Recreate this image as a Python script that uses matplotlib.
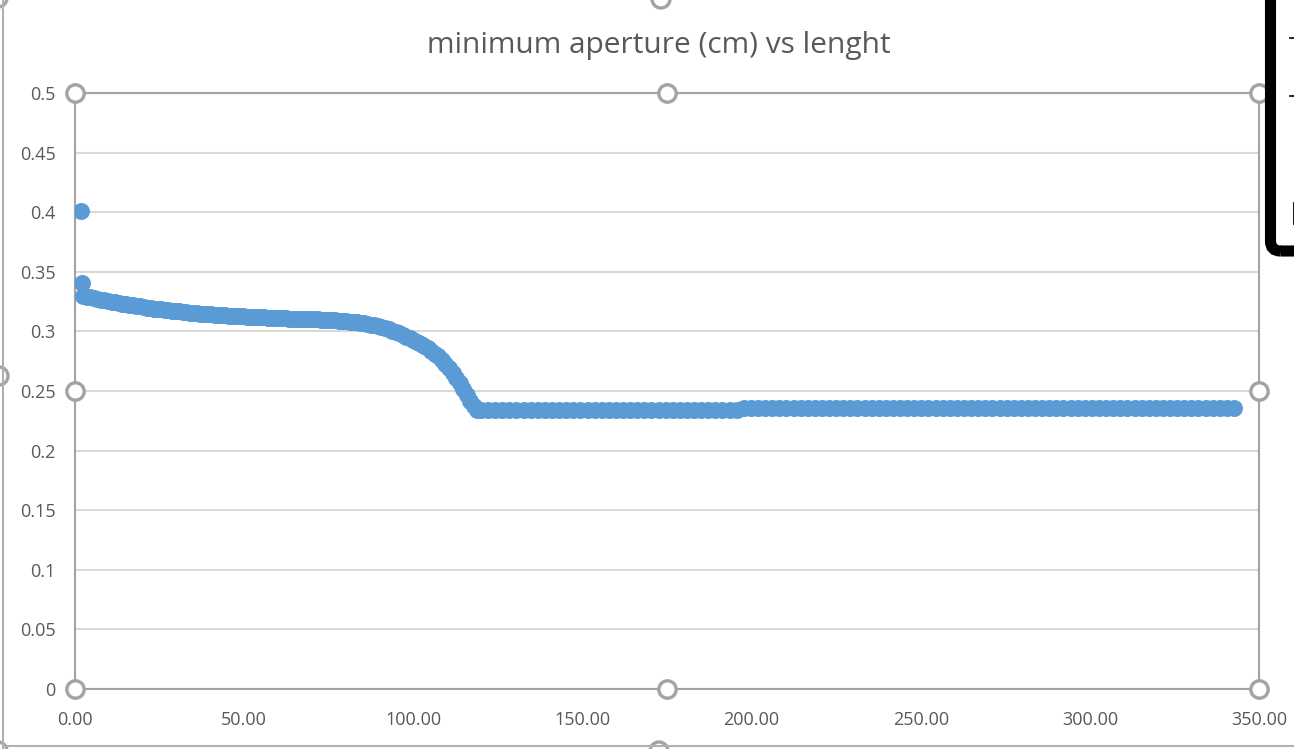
import matplotlib
matplotlib.use("Agg")
import matplotlib.pyplot as plt
from matplotlib.lines import Line2D
from matplotlib.patches import FancyBboxPatch, Circle
from matplotlib.transforms import IdentityTransform

# data
x_start = [1.8, 2.0]
y_start = [0.4013, 0.3405]

x_curve = [2.4, 3.45, 4.5, 5.55, 6.6, 7.65, 8.7, 9.75, 10.8, 11.85, 12.9,
           13.95, 15.0, 16.05, 17.1, 18.15, 19.2, 20.25, 21.3, 22.35, 23.4,
           24.45, 25.5, 26.55, 27.6, 28.65, 29.7, 30.75, 31.8, 32.85, 33.9,
           34.95, 36.0, 37.05, 38.1, 39.15, 40.2, 41.25, 42.3, 43.35, 44.4,
           45.45, 46.5, 47.55, 48.6, 49.65, 50.7, 51.75, 52.8, 53.85, 54.9,
           55.95, 57.0, 58.05, 59.1, 60.15, 61.2, 62.25, 63.3, 64.35, 65.4,
           66.45, 67.5, 68.55, 69.6, 70.65, 71.7, 72.75, 73.8, 74.85, 75.9,
           76.95, 78.0, 79.05, 80.1, 81.15, 82.2, 83.25, 84.3, 85.35, 86.4,
           87.45, 88.5, 89.55, 90.6, 91.65, 92.7, 93.75, 94.8, 95.85, 96.9,
           97.95, 99.0, 100.05, 101.1, 102.15, 103.2, 104.25, 105.3, 106.35,
           107.4, 108.45, 109.5, 110.55, 111.6, 112.65, 113.7, 114.75, 115.8,
           116.85, 117.9, 118.95]
y_curve = [0.3300, 0.3292, 0.3285, 0.3278, 0.3272, 0.3266, 0.3260, 0.3254,
           0.3249, 0.3243, 0.3238, 0.3233, 0.3228, 0.3223, 0.3218, 0.3213,
           0.3209, 0.3204, 0.3200, 0.3196, 0.3192, 0.3188, 0.3184, 0.3180,
           0.3177, 0.3173, 0.3170, 0.3167, 0.3164, 0.3161, 0.3158, 0.3155,
           0.3153, 0.3150, 0.3148, 0.3145, 0.3143, 0.3141, 0.3139, 0.3137,
           0.3135, 0.3133, 0.3131, 0.3129, 0.3128, 0.3126, 0.3125, 0.3123,
           0.3122, 0.3120, 0.3119, 0.3117, 0.3116, 0.3114, 0.3113, 0.3112,
           0.3111, 0.3109, 0.3108, 0.3107, 0.3106, 0.3105, 0.3104, 0.3103,
           0.3102, 0.3101, 0.3100, 0.3099, 0.3098, 0.3096, 0.3095, 0.3093,
           0.3091, 0.3089, 0.3086, 0.3083, 0.3080, 0.3076, 0.3072, 0.3067,
           0.3062, 0.3056, 0.3050, 0.3043, 0.3035, 0.3026, 0.3017, 0.3006,
           0.2995, 0.2983, 0.2970, 0.2957, 0.2943, 0.2928, 0.2912, 0.2895,
           0.2877, 0.2857, 0.2835, 0.2813, 0.2790, 0.2760, 0.2725, 0.2690,
           0.2650, 0.2610, 0.2570, 0.2520, 0.2470, 0.2420, 0.2370, 0.2341]

x_flat1 = [120.0, 122.1, 124.2, 126.3, 128.4, 130.5, 132.6, 134.7, 136.8,
           138.9, 141.0, 143.1, 145.2, 147.3, 149.4, 151.5, 153.6, 155.7,
           157.8, 159.9, 162.0, 164.1, 166.2, 168.3, 170.4, 172.5, 174.6,
           176.7, 178.8, 180.9, 183.0, 185.1, 187.2, 189.3, 191.4, 193.5,
           195.6]
y_flat1 = [0.2341, 0.2341, 0.2341, 0.2341, 0.2341, 0.2341, 0.2341, 0.2341,
           0.2341, 0.2341, 0.2341, 0.2341, 0.2341, 0.2341, 0.2341, 0.2341,
           0.2341, 0.2341, 0.2341, 0.2341, 0.2341, 0.2341, 0.2341, 0.2341,
           0.2341, 0.2341, 0.2341, 0.2341, 0.2341, 0.2341, 0.2341, 0.2341,
           0.2341, 0.2341, 0.2341, 0.2341, 0.2341]

x_flat2 = [197.7, 199.8, 201.9, 204.0, 206.1, 208.2, 210.3, 212.4, 214.5,
           216.6, 218.7, 220.8, 222.9, 225.0, 227.1, 229.2, 231.3, 233.4,
           235.5, 237.6, 239.7, 241.8, 243.9, 246.0, 248.1, 250.2, 252.3,
           254.4, 256.5, 258.6, 260.7, 262.8, 264.9, 267.0, 269.1, 271.2,
           273.3, 275.4, 277.5, 279.6, 281.7, 283.8, 285.9, 288.0, 290.1,
           292.2, 294.3, 296.4, 298.5, 300.6, 302.7, 304.8, 306.9, 309.0,
           311.1, 313.2, 315.3, 317.4, 319.5, 321.6, 323.7, 325.8, 327.9,
           330.0, 332.1, 334.2, 336.3, 338.4, 340.5, 342.6]
y_flat2 = [0.2354, 0.2354, 0.2354, 0.2354, 0.2354, 0.2354, 0.2354, 0.2354,
           0.2354, 0.2354, 0.2354, 0.2354, 0.2354, 0.2354, 0.2354, 0.2354,
           0.2354, 0.2354, 0.2354, 0.2354, 0.2354, 0.2354, 0.2354, 0.2354,
           0.2354, 0.2354, 0.2354, 0.2354, 0.2354, 0.2354, 0.2354, 0.2354,
           0.2354, 0.2354, 0.2354, 0.2354, 0.2354, 0.2354, 0.2354, 0.2354,
           0.2354, 0.2354, 0.2354, 0.2354, 0.2354, 0.2354, 0.2354, 0.2354,
           0.2354, 0.2354, 0.2354, 0.2354, 0.2354, 0.2354, 0.2354, 0.2354,
           0.2354, 0.2354, 0.2354, 0.2354, 0.2354, 0.2354, 0.2354, 0.2354,
           0.2354, 0.2354, 0.2354, 0.2354, 0.2354, 0.2354]

x_vals = x_start + x_curve + x_flat1 + x_flat2
y_vals = y_start + y_curve + y_flat1 + y_flat2

x_ticks = [0, 50, 100, 150, 200, 250, 300, 350]
x_labels = ['0.00', '50.00', '100.00', '150.00', '200.00', '250.00', '300.00', '350.00']
y_ticks = [0, 0.05, 0.1, 0.15, 0.2, 0.25, 0.3, 0.35, 0.4, 0.45, 0.5]
y_labels = ['0', '0.05', '0.1', '0.15', '0.2', '0.25', '0.3', '0.35', '0.4', '0.45', '0.5']

title = 'minimum aperture (cm) vs lenght'

W, H = 1294, 749
plt.rcParams['font.family'] = ['Open Sans', 'DejaVu Sans']
fig = plt.figure(figsize=(W / 100, H / 100), dpi=100)
fig.patch.set_facecolor('white')

ax = fig.add_axes([75 / W, 1 - 689 / H, 1184 / W, 596 / H])
ax.set_xlim(0, 350)
ax.set_ylim(0, 0.5)

txt = '#595959'
sel = '#a3a3a3'

ax.set_xticks(x_ticks)
ax.set_xticklabels(x_labels)
ax.set_yticks(y_ticks)
ax.set_yticklabels(y_labels)
ax.tick_params(axis='both', length=0, labelsize=13, labelcolor=txt)
ax.tick_params(axis='y', pad=14)
ax.tick_params(axis='x', pad=16)

ax.grid(axis='y', color='#d9d9d9', lw=1.5)
ax.set_axisbelow(True)
for s in ax.spines.values():
    s.set_color(sel)
    s.set_linewidth(1.5)

ax.plot(x_vals, y_vals, 'o', ms=11.2, color='#5b9bd5', mec='#5b9bd5', zorder=3)

# plot area selection handles
hx = [0, 175, 350, 0, 350, 0, 175, 350]
hy = [0.5, 0.5, 0.5, 0.25, 0.25, 0, 0, 0]
ax.plot(hx, hy, 'o', ms=12.5, mfc='white', mec=sel, mew=2.4,
        clip_on=False, zorder=5, ls='none')

fig.text(0.5093, 1 - 46 / H, title, ha='center', va='center',
         fontsize=21.5, color=txt)

# chart area border and handles (pixel coords)
fig.add_artist(Line2D([3, 3], [0, H], transform=IdentityTransform(),
                      color='#b0b0b0', lw=1.5))
fig.add_artist(Line2D([3, W], [H - 746, H - 746], transform=IdentityTransform(),
                      color='#b0b0b0', lw=1.5))
for cx, cy in [(661, H + 1), (659, -2), (-1, H - 376), (-2, H + 2), (-2, -2)]:
    fig.add_artist(Circle((cx, cy), 9, transform=IdentityTransform(),
                          fc='white', ec=sel, lw=2.4))

# black overlay box at the right edge
fig.add_artist(FancyBboxPatch((1270.5, H - 251), 100, 300,
                              boxstyle='round,pad=0,rounding_size=10',
                              transform=IdentityTransform(), fill=False,
                              ec='black', lw=8))
fig.add_artist(Line2D([1290, 1294], [H - 38, H - 38], transform=IdentityTransform(),
                      color='black', lw=1.2))
fig.add_artist(Line2D([1290, 1294], [H - 96, H - 96], transform=IdentityTransform(),
                      color='black', lw=1.2))
fig.add_artist(Line2D([1293.5, 1293.5], [H - 203, H - 223], transform=IdentityTransform(),
                      color='black', lw=2))

fig.savefig('out.png', dpi=100)
